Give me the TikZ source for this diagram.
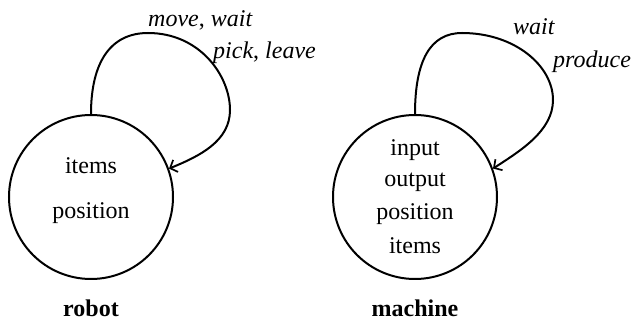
\documentclass[tikz,border=0pt]{standalone}
\usepackage{fontspec}
\setmainfont{Liberation Serif}
\usetikzlibrary{arrows.meta}
\begin{document}
\begin{tikzpicture}[x=1pt,y=1pt,
  every node/.style={font=\fontsize{24}{28}\selectfont, inner sep=0pt},
  state/.style={draw, circle, line width=2pt, minimum size=164pt},
  loopline/.style={line width=2pt, -{Straight Barb[length=6pt,width=13pt,line width=1.7pt]}},
  lbl/.style={anchor=base west}]
\useasboundingbox (0,0) rectangle (633,321);

% robot automaton
\node[state] (robot) at (91,124) {};
\node (rtxt1) at (91,155) {items};
\node (rtxt2) at (91,108) {position};
\node[anchor=base, font=\fontsize{24}{28}\selectfont\bfseries] (rname) at (91,4) {robot};
\coordinate (ra) at (148,288);
\coordinate (rb) at (230,211);
\draw[loopline] (robot.north) .. controls (91,258) and (110,288) .. (ra)
  .. controls (200,288) and (230,245) .. (rb)
  .. controls (230,180) and (200,165) .. (robot.20);
\node[lbl] (rl1) at (148,294) {\textit{move}, \textit{wait}};
\node[lbl] (rl2) at (213,262) {\textit{pick}, \textit{leave}};

% machine automaton
\node[state] (mach) at (415,124) {};
\node (mtxt1) at (415,171) {input};
\node (mtxt2) at (415,139) {output};
\node (mtxt3) at (415,107) {position};
\node (mtxt4) at (415,75) {items};
\node[anchor=base, font=\fontsize{24}{28}\selectfont\bfseries] (mname) at (415,4) {machine};
\coordinate (ma) at (462,288);
\coordinate (mb) at (553,221);
\draw[loopline] (mach.north) .. controls (415,260) and (430,288) .. (ma)
  .. controls (515,288) and (553,255) .. (mb)
  .. controls (553,190) and (520,170) .. (mach.20);
\node[lbl] (ml1) at (513,286) {\textit{wait}};
\node[lbl] (ml2) at (553,253) {\textit{produce}};
\end{tikzpicture}
\end{document}
